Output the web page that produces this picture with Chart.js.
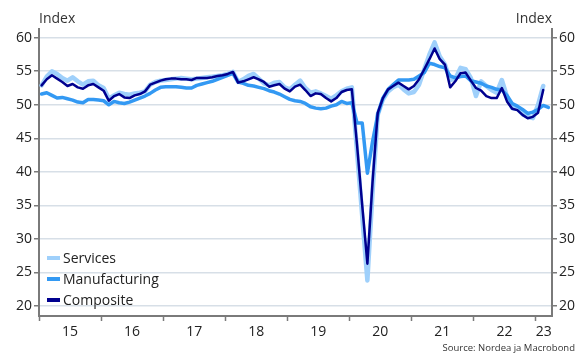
<!DOCTYPE html>
<html lang="en">
<head>
  <meta charset="UTF-8" />
  <title>PMI Index</title>
  <script src="https://cdn.jsdelivr.net/npm/chart.js@4"></script>
  <style>
    body {
      margin: 0;
      background: #fff;
      font-family: 'Open Sans', sans-serif;
      color: #222;
    }
    #wrap {
      position: relative;
      width: 576px;
      height: 356px;
    }
    .unit {
      position: absolute;
      top: 8px;
      font-size: 14px;
      color: #333;
    }
    .legend {
      position: absolute;
      left: 47px;
      top: 247px;
      font-size: 14px;
      line-height: 21px;
    }
    .legend div { display: flex; align-items: center; }
    .legend span {
      display: inline-block;
      width: 13px;
      height: 4px;
      margin-right: 3px;
    }
    .source {
      position: absolute;
      right: 1px;
      top: 341px;
      font-size: 9.5px;
      color: #333;
    }
  </style>
</head>
<body>
  <div id="wrap">
    <canvas id="pmiChart" width="576" height="356"></canvas>
    <div class="unit" style="left:39px">Index</div>
    <div class="unit" style="right:24px">Index</div>
    <div class="legend">
      <div><span style="background:#9fd0fb"></span>Services</div>
      <div><span style="background:#3399f3"></span>Manufacturing</div>
      <div><span style="background:#00008f"></span>Composite</div>
    </div>
    <div class="source">Source: Nordea ja Macrobond</div>
  </div>
  <script>
    // monthly values, Jan 2015 onwards
    const services = [
      52.9, 54.2, 55.0, 54.6, 54.0, 53.6, 54.1, 53.5, 53.0, 53.5, 53.6, 52.9,
      52.5, 50.9, 51.4, 51.8, 51.6, 51.5, 51.7, 51.8, 52.0, 53.0, 53.4, 53.6,
      53.7, 53.8, 53.9, 54.0, 53.9, 53.8, 53.9, 54.0, 54.1, 54.2, 54.3, 54.4,
      54.6, 54.9, 53.4, 53.8, 54.3, 54.6, 53.9, 53.2, 52.9, 53.3, 53.4, 52.6,
      52.3, 53.0, 53.6, 52.5, 51.8, 52.0, 51.7, 51.3, 50.9, 51.4, 52.0, 52.4,
      52.6, 43.0, 33.4, 23.8, 37.0, 48.5, 50.8, 52.0, 52.6, 53.0, 52.3, 51.7,
      51.9, 53.0, 55.3, 57.5, 59.3, 57.2, 56.0, 53.7, 53.9, 55.5, 55.3, 54.0,
      51.3, 53.5, 52.8, 52.2, 51.8, 53.7, 51.2, 49.5, 49.4, 48.6, 48.2, 48.0,
      50.0, 52.8
    ];
    const manufacturing = [
      51.6, 51.8, 51.4, 51.0, 51.1, 50.9, 50.7, 50.4, 50.3, 50.8, 50.8, 50.7,
      50.6, 50.0, 50.5, 50.3, 50.2, 50.4, 50.7, 51.0, 51.3, 51.7, 52.2, 52.6,
      52.7, 52.7, 52.7, 52.6, 52.5, 52.5, 52.9, 53.1, 53.3, 53.5, 53.8, 54.1,
      54.4, 54.7, 53.4, 53.2, 52.9, 52.8, 52.6, 52.4, 52.1, 51.9, 51.6, 51.2,
      50.8, 50.6, 50.5, 50.2, 49.7, 49.5, 49.4, 49.5, 49.8, 50.0, 50.5, 50.2,
      50.3, 47.3, 47.3, 39.8, 44.5, 48.5, 51.0, 52.3, 53.0, 53.7, 53.7, 53.7,
      53.8, 54.3, 54.8, 56.2, 56.0, 55.7, 55.5, 54.3, 54.0, 54.2, 54.3, 53.6,
      53.4, 53.2, 52.8, 52.6, 52.3, 52.2, 51.4, 50.2, 49.8, 49.3, 48.7, 48.9,
      49.3, 49.9, 49.6
    ];
    const composite = [
      52.9, 53.8, 54.4, 53.9, 53.4, 52.8, 53.1, 52.6, 52.4, 52.9, 53.1, 52.6,
      52.1, 50.6, 51.3, 51.6, 51.1, 51.0, 51.4, 51.6, 52.0, 53.0, 53.3, 53.6,
      53.8, 53.9, 53.9, 53.8, 53.8, 53.7, 54.0, 54.0, 54.0, 54.1, 54.3, 54.4,
      54.6, 54.9, 53.3, 53.5, 53.8, 54.1, 53.8, 53.4, 52.7, 52.9, 53.1, 52.4,
      52.0, 52.7, 53.0, 52.2, 51.3, 51.7, 51.6, 51.0, 50.5, 51.0, 51.9, 52.2,
      52.3, 44.0, 35.0, 26.3, 38.5, 48.8, 51.0, 52.3, 52.8, 53.3, 52.8, 52.3,
      52.8, 53.8, 55.3, 56.8, 58.4, 56.8, 56.0, 52.6, 53.5, 54.7, 54.8, 53.6,
      52.5, 52.1, 51.3, 51.0, 51.0, 52.5, 50.5, 49.4, 49.2, 48.5, 48.0, 48.2,
      48.8, 52.2
    ];
    const yearLabels = ['15', '16', '17', '18', '19', '20', '21', '22', '23'];
    const yTicks = [20, 25, 30, 35, 40, 45, 50, 55, 60];

    const X_MAX = 99.2; // months shown from Jan 2015
    const toPoints = arr => arr.map((v, i) => ({ x: i + 0.5, y: v }));

    // tick marks at year starts, labels in the middle of each year
    const xTickVals = [];
    yearLabels.forEach((lab, k) => {
      xTickVals.push(k * 12);
      const mid = Math.min(k * 12 + 6, (k * 12 + X_MAX) / 2);
      xTickVals.push(mid);
    });
    const labelAt = v => {
      if (v % 12 === 0) return '';
      const k = Math.floor(v / 12);
      return yearLabels[k] || '';
    };

    const axisGrey = '#7a7a7a';
    const yAxis = (pos) => ({
      type: 'linear',
      position: pos,
      min: 18.5,
      max: 61.3,
      afterBuildTicks: s => { s.ticks = yTicks.map(v => ({ value: v })); },
      afterFit: s => { s.width = pos === 'left' ? 39 : 24; },
      border: { color: axisGrey, width: 2 },
      grid: {
        drawOnChartArea: pos === 'left',
        color: '#d7dfe7',
        lineWidth: 1.5,
        tickLength: 5,
        tickColor: axisGrey,
        tickWidth: 1.5
      },
      ticks: {
        padding: 2,
        color: '#222',
        font: { family: 'Open Sans', size: 14 }
      }
    });

    new Chart(document.getElementById('pmiChart'), {
      type: 'line',
      data: {
        datasets: [
          { label: 'Composite', data: toPoints(composite), borderColor: '#00008f', borderWidth: 2.5, order: 1 },
          { label: 'Manufacturing', data: toPoints(manufacturing), borderColor: '#3399f3', borderWidth: 3.5, order: 2 },
          { label: 'Services', data: toPoints(services), borderColor: '#9fd0fb', borderWidth: 4.5, order: 3 }
        ]
      },
      options: {
        responsive: false,
        animation: false,
        layout: { padding: { top: 29, left: 0, right: 0, bottom: 0 } },
        elements: {
          point: { radius: 0 },
          line: { tension: 0, borderJoinStyle: 'round', borderCapStyle: 'round' }
        },
        plugins: {
          legend: { display: false },
          tooltip: { enabled: false }
        },
        scales: {
          x: {
            type: 'linear',
            min: 0,
            max: X_MAX,
            afterBuildTicks: s => { s.ticks = xTickVals.map(v => ({ value: v })); },
            afterFit: s => { s.height = 40; },
            border: { color: axisGrey, width: 2 },
            grid: {
              drawOnChartArea: false,
              tickLength: 5,
              tickWidth: 1.5,
              tickColor: ctx => (ctx.tick && ctx.tick.value % 12 === 0) ? axisGrey : 'rgba(0,0,0,0)'
            },
            ticks: {
              autoSkip: false,
              maxRotation: 0,
              padding: 3,
              color: '#222',
              font: { family: 'Open Sans', size: 14 },
              callback: v => labelAt(v)
            }
          },
          y: yAxis('left'),
          y2: yAxis('right')
        }
      }
    });
  </script>
</body>
</html>
